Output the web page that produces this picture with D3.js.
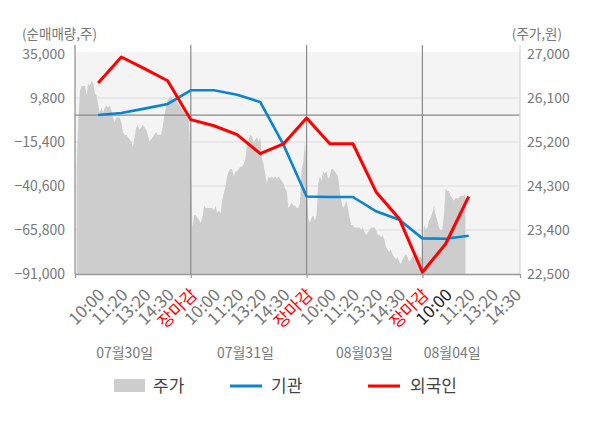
<!DOCTYPE html>
<html>
<head>
<meta charset="utf-8">
<script src="https://cdn.jsdelivr.net/npm/d3@7"></script>
<style>
body { margin: 0; background: #fff; }
svg text { font-family: "Noto Sans CJK KR", "Noto Sans", sans-serif; }
</style>
</head>
<body>
<svg id="chart" width="600" height="428"></svg>
<script>
// 날짜, 시간 라벨
const dates = ["07월30일", "07월31일", "08월03일", "08월04일"];
const dateLabelSlot = [30, 103, 175, 228];
const xTickLabels = ["10:00","11:20","13:20","14:30","장마감",
                     "10:00","11:20","13:20","14:30","장마감",
                     "10:00","11:20","13:20","14:30","장마감",
                     "10:00","11:20","13:20","14:30"];
const leftTicks = [35000, 9800, -15400, -40600, -65800, -91000];
const rightTicks = [27000, 26100, 25200, 24300, 23400, 22500];

// 순매매량 (누적) - 10:00, 11:20, 13:20, 14:30, 장마감 마다
const instNet = [100, 1200, 3700, 6400, 14200,
                 14200, 11700, 7500, -16900, -46600,
                 -46900, -46900, -55100, -59900, -70600,
                 -70800, -69100];
const foreignNet = [18400, 33300, 26600, 19700, -2600,
                    -6100, -11200, -22100, -16500, -1700,
                    -16400, -16400, -44000, -59300, -90000,
                    -73800, -46600];

// 주가 (일별)
const priceDay1 = [24650,25650,26250,26350,26350,26350,26150,26400,26350,26450,
  26400,26200,26150,25950,25800,25900,25800,25900,25950,25900,
  25950,25850,25700,25600,25700,25700,25700,25600,25400,25350,
  25350,25300,25250,25200,25100,25300,25500,25550,25450,25500,
  25550,25500,25450,25350,25200,25250,25300,25350,25400,25350,
  25350,25350,25500,25750,25900,26050,26100,26150,26050,26050,
  26100,26000,25950,25900,25850,25800,25750,25700,25600,24650];
const priceDay2 = [23450,23700,23700,23650,23600,23550,23650,23900,23850,23850,
  23850,23850,23850,23800,23900,23750,23800,23750,24000,24150,
  24300,24500,24600,24650,24650,24500,24600,24600,24650,24700,
  24700,24750,24850,25150,25250,25350,25300,25200,25250,25300,
  25200,25300,24850,24750,24550,24350,24500,24450,24500,24450,
  24500,24450,24500,24450,24400,24350,24250,24200,23850,23900,
  23950,23900,23900,23850,23850,23950,24650,24800,25200,24700];
const priceDay3 = [23650,23550,23650,23700,23600,23700,24350,24500,24400,24600,
  24550,24600,24450,24500,24650,24650,24600,24550,24500,24200,
  24000,23850,23900,24000,23850,23650,23500,23500,23450,23450,
  23450,23450,23400,23450,23350,23300,23350,23400,23450,23450,
  23450,23400,23300,23300,23250,23300,23200,23050,23000,22950,
  23000,22900,22850,22800,22850,22750,22700,22800,22850,22900,
  22850,22750,22800,22850,22900,22850,22950,22850,22850,22800];
const priceDay4 = [23500,23400,23450,23600,23650,23750,23900,23700,23600,23450,
  23400,23400,23700,24250,24200,24200,24100,24050,24000,24050,
  24050,24050,24100,24100,24100,24150];

const SLOTS_PER_DAY = 70;
const SLOTS_PER_TICK = 14;

let svg = d3.select('#chart');
let PLOT_LEFT = 75, PLOT_RIGHT = 520, PLOT_TOP = 54, PLOT_BOTTOM = 274;

let xScale = d3.scaleLinear().domain([0, 269]).range([PLOT_LEFT, PLOT_RIGHT]);
let yLeft = d3.scaleLinear().domain([-91000, 35000]).range([PLOT_BOTTOM, PLOT_TOP]);
let yRight = d3.scaleLinear().domain([22500, 27000]).range([PLOT_BOTTOM, PLOT_TOP]);

// price data -> slot
let priceData = [];
[priceDay1, priceDay2, priceDay3, priceDay4].forEach((day, d) => {
    day.forEach((p, i) => priceData.push({slot: d * SLOTS_PER_DAY + 1 + i, price: p}));
});
let instData = instNet.map((v, i) => ({slot: (i + 1) * SLOTS_PER_TICK, v: v}));
let foreignData = foreignNet.map((v, i) => ({slot: (i + 1) * SLOTS_PER_TICK, v: v}));

// background
svg.append('rect')
    .attr('x', PLOT_LEFT).attr('y', 52)
    .attr('width', PLOT_RIGHT - PLOT_LEFT).attr('height', PLOT_BOTTOM - 52)
    .attr('fill', '#f4f4f4');

// grid
svg.append('g').selectAll('line')
    .data(leftTicks.filter(t => t != 35000 && t != -91000))
    .join('line')
    .attr('x1', PLOT_LEFT).attr('x2', PLOT_RIGHT)
    .attr('y1', d => yLeft(d)).attr('y2', d => yLeft(d))
    .attr('stroke', '#dcdcdc').attr('stroke-width', 1.2);

// price area
let area = d3.area()
    .x(d => xScale(d.slot))
    .y0(PLOT_BOTTOM)
    .y1(d => yRight(d.price));
svg.append('path')
    .datum(priceData)
    .attr('d', area)
    .attr('fill', '#cdcdcd');

// zero line
svg.append('line')
    .attr('x1', PLOT_LEFT).attr('x2', PLOT_RIGHT)
    .attr('y1', yLeft(0)).attr('y2', yLeft(0))
    .attr('stroke', '#8a8a8a').attr('stroke-width', 1.2);

// day separators + left edge
svg.append('g').selectAll('line')
    .data([0, SLOTS_PER_DAY, SLOTS_PER_DAY * 2, SLOTS_PER_DAY * 3])
    .join('line')
    .attr('x1', d => xScale(d)).attr('x2', d => xScale(d))
    .attr('y1', 45).attr('y2', PLOT_BOTTOM)
    .attr('stroke', '#8a8a8a').attr('stroke-width', 1.2);
svg.append('line')
    .attr('x1', PLOT_RIGHT).attr('x2', PLOT_RIGHT)
    .attr('y1', 45).attr('y2', PLOT_BOTTOM)
    .attr('stroke', '#d6d6d6').attr('stroke-width', 1.2);

// lines
let line = d3.line().x(d => xScale(d.slot)).y(d => yLeft(d.v));
svg.append('path').datum(instData)
    .attr('d', line).attr('fill', 'none')
    .attr('stroke', '#0a84d0').attr('stroke-width', 2.6);
svg.append('path').datum(foreignData)
    .attr('d', line).attr('fill', 'none')
    .attr('stroke', '#ff0000').attr('stroke-width', 3)
    .attr('stroke-linejoin', 'round');

// bottom axis
let xAxis = svg.append('g')
    .attr('transform', `translate(0,${PLOT_BOTTOM})`)
    .call(d3.axisBottom(xScale).tickValues([0, 70, 140, 210, 269]).tickSize(4).tickSizeOuter(0).tickFormat(''));
xAxis.select('.domain').attr('stroke', '#999').attr('stroke-width', 1.5);
xAxis.selectAll('.tick line').attr('stroke', '#999').attr('stroke-width', 1.2);

// x labels
svg.append('g').selectAll('text')
    .data(xTickLabels)
    .join('text')
    .attr('transform', (d, i) => `translate(${xScale((i + 1) * SLOTS_PER_TICK) + 7.5},296) rotate(-45)`)
    .attr('text-anchor', 'end')
    .attr('font-size', 17)
    .attr('fill', (d, i) => d == '장마감' ? '#ff0000' : (i == 15 ? '#222' : '#777'))
    .text(d => d);

// date labels
svg.append('g').selectAll('text')
    .data(dates)
    .join('text')
    .attr('x', (d, i) => xScale(dateLabelSlot[i]))
    .attr('y', 358)
    .attr('text-anchor', 'middle')
    .attr('font-size', 14)
    .attr('fill', '#777')
    .text(d => d);

// left axis
let yAxisL = svg.append('g')
    .attr('transform', `translate(${PLOT_LEFT},0)`)
    .call(d3.axisLeft(yLeft).tickValues(leftTicks).tickSize(0).tickPadding(10).tickFormat(d3.format(',')));
yAxisL.select('.domain').remove();
yAxisL.selectAll('text').attr('font-size', 14).attr('fill', '#777').attr('font-family', null);

// right axis
let yAxisR = svg.append('g')
    .attr('transform', `translate(${PLOT_RIGHT},0)`)
    .call(d3.axisRight(yRight).tickValues(rightTicks).tickSize(0).tickPadding(7).tickFormat(d3.format(',')));
yAxisR.select('.domain').remove();
yAxisR.selectAll('text').attr('font-size', 14).attr('fill', '#777').attr('font-family', null);

// axis titles
svg.append('text').attr('x', 22).attr('y', 39)
    .attr('font-size', 13.5).attr('fill', '#777').text('(순매매량,주)');
svg.append('text').attr('x', 562).attr('y', 39).attr('text-anchor', 'end')
    .attr('font-size', 13.5).attr('fill', '#777').text('(주가,원)');

// legend
let legend = svg.append('g');
legend.append('rect').attr('x', 114).attr('y', 379).attr('width', 31).attr('height', 13).attr('fill', '#cdcdcd');
legend.append('text').attr('x', 153).attr('y', 392).attr('font-size', 17).attr('fill', '#444').text('주가');
legend.append('line').attr('x1', 230).attr('x2', 262).attr('y1', 386).attr('y2', 386)
    .attr('stroke', '#0a84d0').attr('stroke-width', 3);
legend.append('text').attr('x', 271).attr('y', 392).attr('font-size', 17).attr('fill', '#444').text('기관');
legend.append('line').attr('x1', 368).attr('x2', 400).attr('y1', 386).attr('y2', 386)
    .attr('stroke', '#ff0000').attr('stroke-width', 3);
legend.append('text').attr('x', 410).attr('y', 392).attr('font-size', 17).attr('fill', '#444').text('외국인');
</script>
</body>
</html>
